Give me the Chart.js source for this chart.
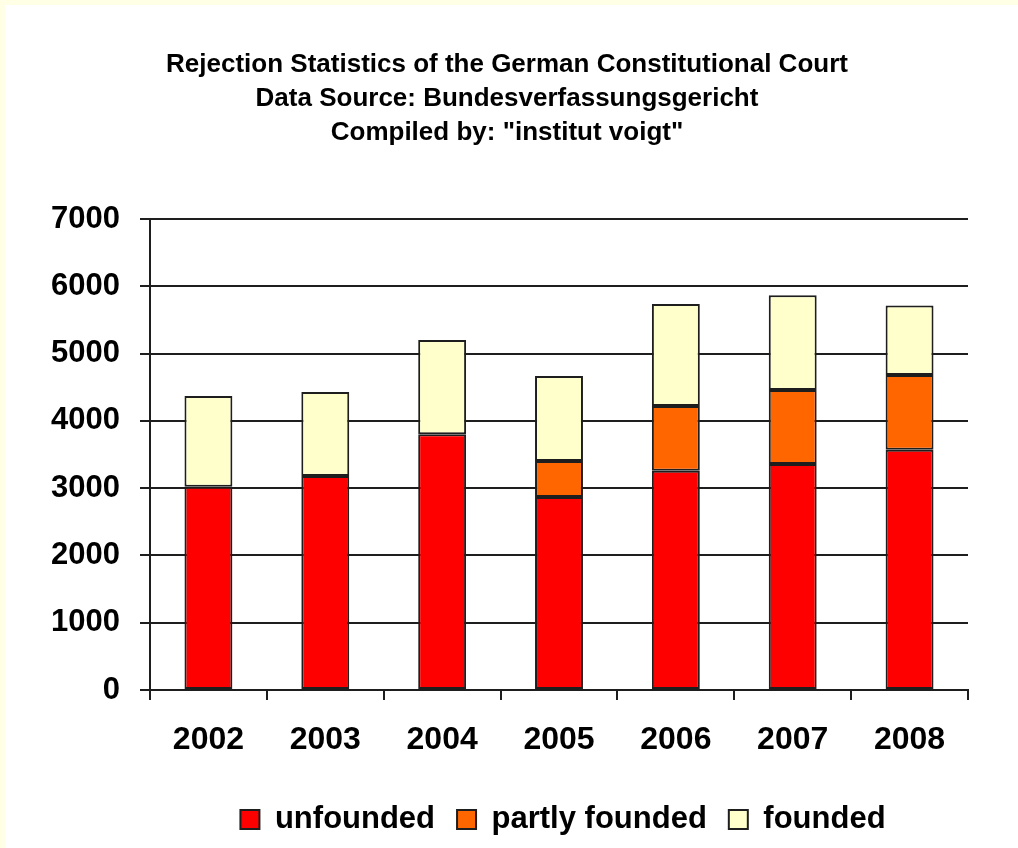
<!DOCTYPE html>
<html>
<head>
<meta charset="utf-8">
<script src="https://cdn.jsdelivr.net/npm/chart.js@4.4.1/dist/chart.umd.min.js"></script>
<style>
  html, body { margin: 0; padding: 0; width: 1018px; height: 848px; overflow: hidden; background: #FFFFE6; }
  #panel { position: absolute; left: 5px; top: 5px; width: 1013px; height: 843px; background: #FFFFFF; }
  #c { position: absolute; left: 0; top: 0; }
</style>
</head>
<body>
<div id="panel"></div>
<canvas id="c" width="1018" height="848"></canvas>
<script>
// ---- data ----
const years = ['2002', '2003', '2004', '2005', '2006', '2007', '2008'];
const unfounded = [3020, 3180, 3800, 2870, 3260, 3360, 3570];
const partlyFounded = [0, 0, 0, 535, 960, 1100, 1110];
const founded = [1350, 1250, 1400, 1260, 1515, 1405, 1035];
const seriesNames = ['unfounded', 'partly founded', 'founded'];
const yTicks = [0, 1000, 2000, 3000, 4000, 5000, 6000, 7000];
const titleLines = [
  'Rejection Statistics of the German Constitutional Court',
  'Data Source: Bundesverfassungsgericht',
  'Compiled by: "institut voigt"'
];

const LINE = '#1e1e1e';
const sans = "'Liberation Sans', Arial, sans-serif";
const LEGEND_SHIFT = 79;
const TITLE_SHIFT = 23;

const shiftBoxes = {
  id: 'shiftBoxes',
  afterLayout(chart) {
    const l = chart.legend;
    if (l) { l.left += LEGEND_SHIFT; l.right += LEGEND_SHIFT; }
    const t = chart.titleBlock;
    if (t) { t.left += TITLE_SHIFT; t.right += TITLE_SHIFT; }
  }
};

new Chart(document.getElementById('c'), {
  type: 'bar',
  data: {
    labels: years,
    datasets: [
      { label: seriesNames[0], data: unfounded, backgroundColor: '#FF0000', borderColor: LINE, borderWidth: 2, borderSkipped: false },
      { label: seriesNames[1], data: partlyFounded, backgroundColor: '#FF6600', borderColor: LINE, borderWidth: 2, borderSkipped: false },
      { label: seriesNames[2], data: founded, backgroundColor: '#FFFFCC', borderColor: LINE, borderWidth: 2, borderSkipped: false }
    ]
  },
  options: {
    responsive: false,
    maintainAspectRatio: false,
    animation: false,
    devicePixelRatio: 1,
    layout: { padding: { left: 0, right: 50, top: 0, bottom: 3 } },
    datasets: { bar: { categoryPercentage: 1.0, barPercentage: 0.41 } },
    plugins: {
      tooltip: { enabled: false },
      title: {
        display: true,
        text: titleLines,
        color: '#000000',
        font: { family: sans, size: 26, weight: 'bold', lineHeight: 34 / 26 },
        padding: { top: 48, bottom: 69 }
      },
      legend: {
        display: true,
        position: 'bottom',
        labels: {
          color: '#000000',
          boxWidth: 19,
          boxHeight: 19,
          padding: 22,
          font: { family: sans, size: 31, weight: 'bold' }
        }
      }
    },
    scales: {
      x: {
        stacked: true,
        grid: { display: true, drawOnChartArea: false, offset: true, tickLength: 10, color: LINE, lineWidth: 2 },
        border: { display: true, color: LINE, width: 2 },
        ticks: { color: '#000000', padding: 21, font: { family: sans, size: 32, weight: 'bold' } },
        afterFit(scale) { scale.height = 92; }
      },
      y: {
        stacked: true,
        min: 0,
        max: 7000,
        afterBuildTicks(scale) { scale.ticks = yTicks.map(v => ({ value: v })); },
        grid: { display: true, drawOnChartArea: true, tickLength: 10, color: LINE, lineWidth: 2 },
        border: { display: true, color: LINE, width: 2 },
        ticks: {
          color: '#000000',
          padding: 20,
          font: { family: sans, size: 31, weight: 'bold' },
          callback: (v) => String(v)
        },
        afterFit(scale) { scale.width = 150; }
      }
    }
  },
  plugins: [shiftBoxes]
});
</script>
</body>
</html>
